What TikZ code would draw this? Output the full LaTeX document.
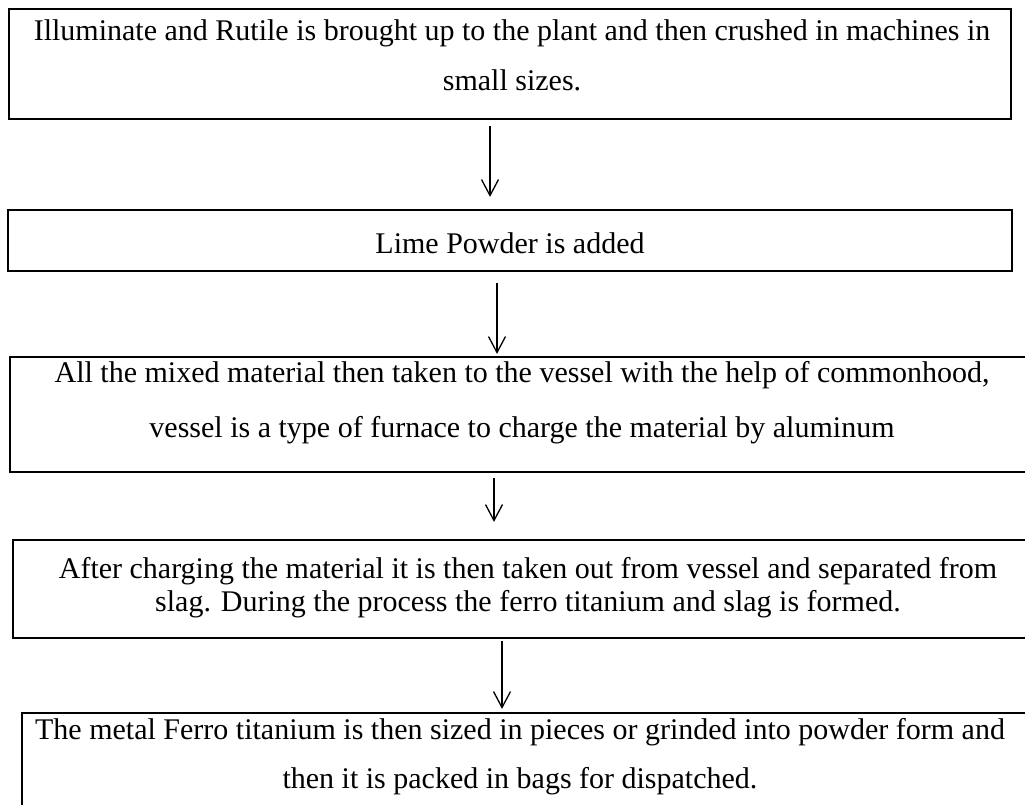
\documentclass[tikz,border=0pt]{standalone}
\usepackage{fontspec}
\setmainfont{Liberation Serif}
\usetikzlibrary{arrows.meta}
\begin{document}
\begin{tikzpicture}[x=1pt,y=-1pt,
  box/.style={draw=black, line width=2.2pt, rectangle, inner sep=0pt},
  txt/.style={align=center, inner sep=0pt, text=black},
  arr/.style={-{Straight Barb[length=16pt,width=17pt,line width=1.3pt]}, line width=1.4pt}]
\useasboundingbox (0,0) rectangle (1025,805);
\clip (0,0) rectangle (1025,805);
\fill[white] (0,0) rectangle (1025,805);
% boxes
\node[box, minimum width=1002pt, minimum height=110pt] (b1) at (510,64) {};
\node[box, minimum width=1004pt, minimum height=61pt] (b2) at (510,240.5) {};
\node[box, minimum width=1030pt, minimum height=115pt] (b3) at (525,414.5) {};
\node[box, minimum width=1027pt, minimum height=98pt] (b4) at (526.5,589) {};
\node[box, minimum width=1018pt, minimum height=117pt] (b5) at (531,771.5) {};
% texts
\node[txt, font=\fontsize{30}{50}\selectfont] (t1) at (512,55)
  {Illuminate and Rutile is brought up to the plant and then crushed in machines in\\small sizes.};
\node[txt, font=\fontsize{30}{34}\selectfont] (t2) at (510,243) {Lime Powder is added};
\node[txt, font=\fontsize{30}{55}\selectfont] (t3) at (522,403)
  {All the mixed material then taken to the vessel with the help of commonhood,\\vessel is a type of furnace to charge the material by aluminum};
\node[txt, font=\fontsize{30}{33}\selectfont] (t4) at (528,588)
  {After charging the material it is then taken out from vessel and separated from\\slag. During the process the ferro titanium and slag is formed.};
\node[txt, font=\fontsize{30}{49}\selectfont] (t5) at (520,757)
  {The metal Ferro titanium is then sized in pieces or grinded into powder form and\\then it is packed in bags for dispatched.};
% arrow x positions
\coordinate (x1) at (490,0);
\coordinate (x2) at (497,0);
\coordinate (x3) at (494,0);
\coordinate (x4) at (502,0);
\draw[arr] ([yshift=-6pt]b1.south -| x1) -- ([yshift=12pt]b2.north -| x1);
\draw[arr] ([yshift=-11pt]b2.south -| x2) -- ([yshift=2pt]b3.north -| x2);
\draw[arr] ([yshift=-5pt]b3.south -| x3) -- ([yshift=17pt]b4.north -| x3);
\draw[arr] ([yshift=-2pt]b4.south -| x4) -- ([yshift=3pt]b5.north -| x4);
\end{tikzpicture}
\end{document}
